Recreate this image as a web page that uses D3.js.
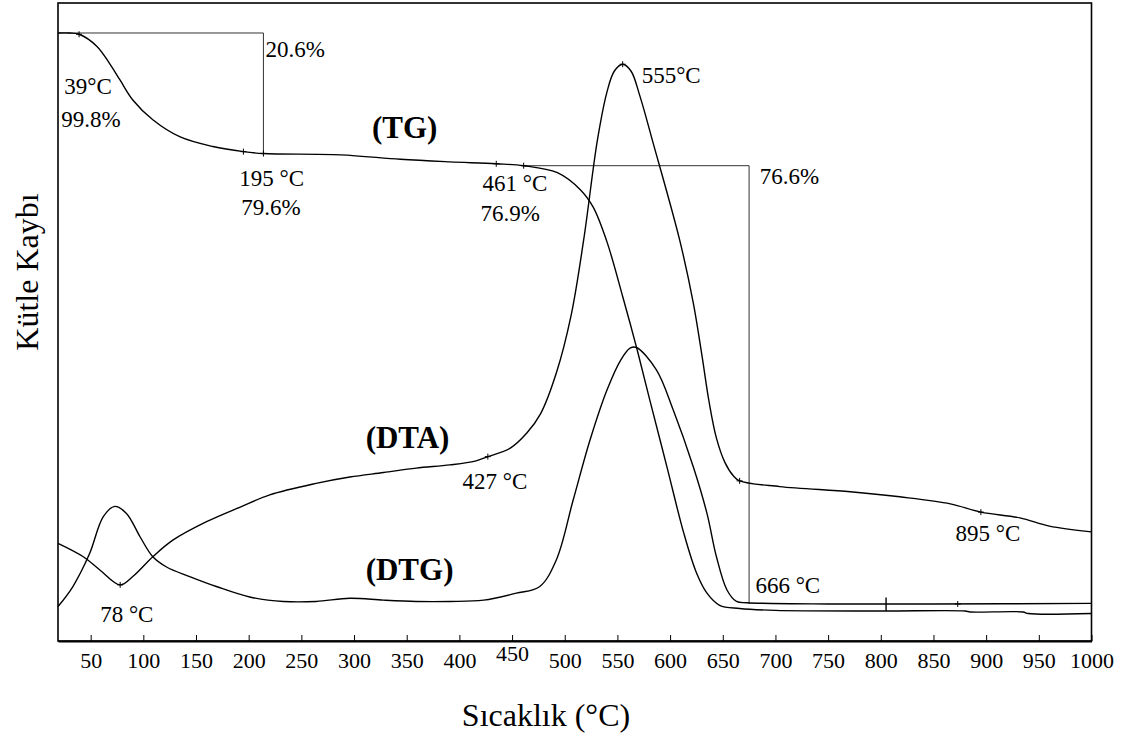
<!DOCTYPE html>
<html>
<head>
<meta charset="utf-8">
<script src="https://cdn.jsdelivr.net/npm/d3@7"></script>
<style>
  body { margin: 0; background: #fff; }
  text { font-family: "Liberation Serif", "DejaVu Serif", serif; }
</style>
</head>
<body>
<script>
//Temperature ticks on the x axis
var tickValues = [50, 100, 150, 200, 250, 300, 350, 400, 450, 500, 550, 600, 650, 700, 750, 800, 850, 900, 950, 1000];

//TG curve: [temperature °C, relative signal]
var tgData = [[19,95.3],[30,95.3],[39,95.1],[56,93.2],[68,90.5],[78,87.9],[90,84.8],[109,81.7],[135,79.0],[166,77.5],[195,76.7],[214,76.4],[287,76.2],[344,75.5],[391,75.1],[435,74.8],[461,74.5],[493,73.4],[515,70.7],[527,68.0],[540,62.6],[555,54.0],[568,46.1],[581,37.6],[597,27.3],[613,16.9],[625,10.7],[635,7.5],[647,5.6],[666,5.1],[700,4.8],[800,4.7],[880,4.7],[885,4.55],[935,4.55],[940,4.3],[1000,4.3]];

//DTA curve
var dtaData = [[19,15.3],[43,13.2],[59,11.1],[78,8.8],[90,10.1],[109,13.2],[128,15.8],[160,18.7],[192,21.0],[220,22.9],[264,24.7],[296,25.7],[328,26.4],[359,27.1],[391,27.6],[415,28.2],[427,28.9],[448,30.2],[464,32.6],[477,35.6],[492,42.0],[506,51.0],[518,62.9],[531,78.5],[540,86.0],[547,89.3],[555,90.4],[563,89.3],[571,85.6],[584,78.0],[609,62.9],[622,53.0],[630,45.0],[637,37.5],[644,31.8],[652,28.0],[660,25.9],[666,25.1],[704,24.2],[771,23.4],[818,22.6],[866,21.5],[895,20.2],[932,19.3],[960,18.0],[1000,17.1]];

//DTG curve
var dtgData = [[19,5.4],[33,8.5],[49,13.7],[62,19.5],[73,21.1],[84,20.0],[97,16.3],[109,13.2],[122,11.6],[144,10.1],[170,8.5],[201,6.9],[233,6.2],[264,6.2],[296,6.7],[328,6.4],[359,6.2],[391,6.2],[423,6.4],[454,7.5],[476,8.5],[492,12.7],[508,22.1],[524,31.5],[540,39.3],[553,44.0],[562,45.9],[568,46.0],[587,42.5],[603,36.2],[622,27.3],[635,20.0],[644,13.2],[654,8.0],[663,6.2],[673,6.0],[750,5.8],[850,5.8],[1000,5.9]];

//"+" markers on the curves
var markers = [[39,95.1],[195,76.7],[214,76.4],[435,74.8],[461,74.5],[78,8.8],[427,28.9],[555,90.4],[666,25.1],[895,20.2],[873,5.8]];

//Step lines of the TG mass losses
var stepLines = [
  [[19,95.3],[214,95.3],[214,76.4]],
  [[461,74.5],[675,74.5],[675,5.8]]
];

//Annotation texts: [temperature, signal, text, bold]
var notes = [
  [216, 91.6, "20.6%", false],
  [25, 85.8, "39°C", false],
  [22, 80.6, "99.8%", false],
  [191, 71.3, "195 °C", false],
  [193, 66.8, "79.6%", false],
  [317, 78.9, "(TG)", true],
  [422, 70.5, "461 °C", false],
  [420, 65.9, "76.9%", false],
  [685, 71.6, "76.6%", false],
  [573, 87.4, "555°C", false],
  [311, 30.3, "(DTA)", true],
  [403, 23.9, "427 °C", false],
  [311, 9.6, "(DTG)", true],
  [59, 3.0, "78 °C", false],
  [681, 7.6, "666 °C", false],
  [871, 15.7, "895 °C", false]
];

var w = 1124;
var h = 737;
var serif = "Liberation Serif, DejaVu Serif, serif";

var svg = d3.select("body")
            .append("svg")
            .attr("width", w)
            .attr("height", h);

var x = d3.scaleLinear().domain([19, 1000]).range([58, 1091.5]);
var y = d3.scaleLinear().domain([0, 100]).range([641, 3]);

//Frame
svg.append("rect")
    .attr("x", x(19))
    .attr("y", y(100))
    .attr("width", x(1000) - x(19))
    .attr("height", y(0) - y(100))
    .attr("fill", "none")
    .attr("stroke", "#000")
    .attr("stroke-width", 1.6);

//X axis
var xAxis = d3.axisBottom(x)
    .tickValues(tickValues)
    .tickSizeInner(-6)
    .tickSizeOuter(0)
    .tickFormat(d3.format("d"));

var gx = svg.append("g")
    .attr("transform", "translate(0," + y(0) + ")")
    .call(xAxis)
    .attr("font-family", serif)
    .attr("font-size", 22);

gx.select(".domain").attr("stroke-width", 2);
gx.selectAll(".tick line").attr("stroke-width", 1);
gx.selectAll(".tick text")
    .attr("fill", "#000")
    .attr("dy", 0)
    .attr("y", function(d) { return d == 450 ? 20 : 27; });

//Step lines
var line = d3.line()
    .x(function(d) { return x(d[0]); })
    .y(function(d) { return y(d[1]); });

svg.selectAll(".step")
    .data(stepLines)
    .enter()
    .append("path")
    .attr("class", "step")
    .attr("d", line)
    .attr("fill", "none")
    .attr("stroke", "#333")
    .attr("stroke-width", 1);

//Curves
var curve = d3.line()
    .x(function(d) { return x(d[0]); })
    .y(function(d) { return y(d[1]); })
    .curve(d3.curveCatmullRom.alpha(0.5));

[tgData, dtaData, dtgData].forEach(function(data) {
    svg.append("path")
        .datum(data)
        .attr("d", curve)
        .attr("fill", "none")
        .attr("stroke", "#000")
        .attr("stroke-width", 1.4);
});

//Small spike on the DTG baseline
svg.append("line")
    .attr("x1", x(805)).attr("x2", x(805))
    .attr("y1", y(6.8)).attr("y2", y(4.7))
    .attr("stroke", "#000")
    .attr("stroke-width", 1.4);

//Markers
svg.selectAll(".mark")
    .data(markers)
    .enter()
    .append("path")
    .attr("class", "mark")
    .attr("d", function(d) {
        var cx = x(d[0]), cy = y(d[1]);
        return "M" + (cx - 3) + "," + cy + "H" + (cx + 3) + "M" + cx + "," + (cy - 3) + "V" + (cy + 3);
    })
    .attr("stroke", "#000")
    .attr("stroke-width", 1);

//Annotations
svg.selectAll(".note")
    .data(notes)
    .enter()
    .append("text")
    .attr("class", "note")
    .attr("x", function(d) { return x(d[0]); })
    .attr("y", function(d) { return y(d[1]); })
    .attr("font-family", serif)
    .attr("font-size", function(d) { return d[3] ? 31 : 23; })
    .attr("font-weight", function(d) { return d[3] ? "bold" : "normal"; })
    .text(function(d) { return d[2]; });

//Axis titles
svg.append("text")
    .attr("x", 546)
    .attr("y", 726)
    .attr("text-anchor", "middle")
    .attr("font-family", serif)
    .attr("font-size", 32)
    .text("Sıcaklık (°C)");

svg.append("text")
    .attr("transform", "translate(38,272) rotate(-90)")
    .attr("text-anchor", "middle")
    .attr("font-family", serif)
    .attr("font-size", 32)
    .text("Kütle Kaybı");
</script>
</body>
</html>
